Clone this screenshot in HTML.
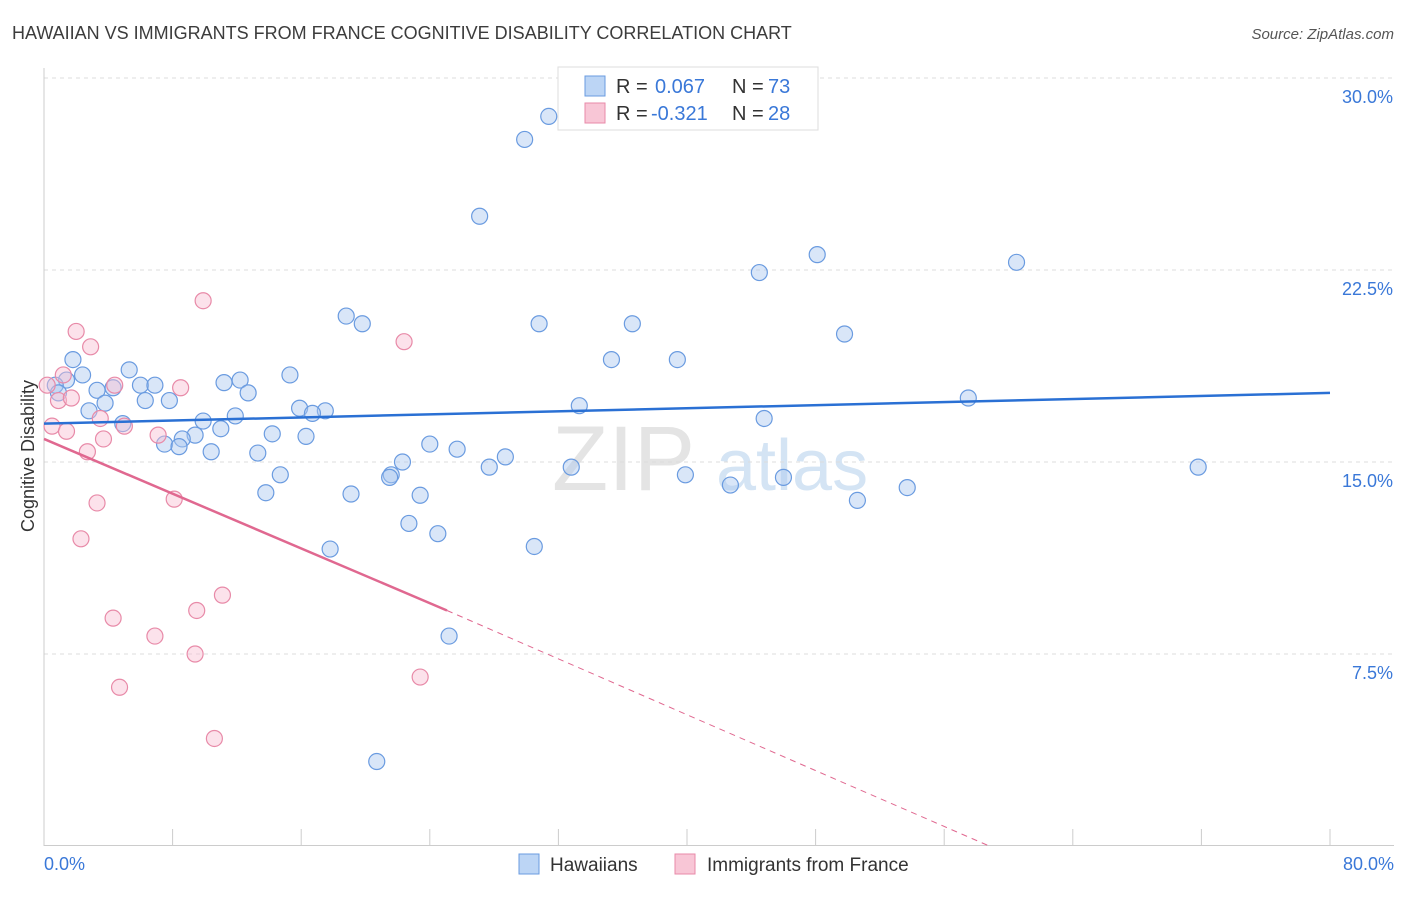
<!DOCTYPE html>
<html><head><meta charset="utf-8">
<style>
body{margin:0;background:#fff;font-family:"Liberation Sans",sans-serif;}
svg text{font-family:"Liberation Sans",sans-serif;}
</style></head>
<body>
<svg id="chart" width="1406" height="892" viewBox="0 0 1406 892" xmlns="http://www.w3.org/2000/svg">
<text x="12" y="39" font-size="18" fill="#3c3c3c">HAWAIIAN VS IMMIGRANTS FROM FRANCE COGNITIVE DISABILITY CORRELATION CHART</text>
<text x="1394" y="39" font-size="15" fill="#555" text-anchor="end" font-style="italic">Source: ZipAtlas.com</text>
<g>
<text x="552" y="490" font-size="92" fill="#e4e4e4" font-family="Liberation Serif">ZIP</text>
<text x="716" y="490" font-size="72" fill="#d4e4f4">atlas</text>
</g>
<g id="grid"></g>
<g id="axes"></g>
<g id="marks"></g>
<text transform="translate(34,456) rotate(-90)" font-size="18" fill="#333" text-anchor="middle">Cognitive Disability</text>
<g>
<rect x="558" y="67" width="260" height="63" fill="#fff" stroke="#ddd"/>
<rect x="585" y="76" width="20" height="20" fill="#bcd5f5" stroke="#6a9be0"/>
<text x="616" y="93" font-size="20" fill="#333">R = </text><text x="655" y="93" font-size="20" fill="#3a78d8">0.067</text>
<text x="732" y="93" font-size="20" fill="#333">N = </text><text x="768" y="93" font-size="20" fill="#3a78d8">73</text>
<rect x="585" y="103" width="20" height="20" fill="#f8c6d6" stroke="#e88aa8"/>
<text x="616" y="120" font-size="20" fill="#333">R = </text><text x="651" y="120" font-size="20" fill="#3a78d8">-0.321</text>
<text x="732" y="120" font-size="20" fill="#333">N = </text><text x="768" y="120" font-size="20" fill="#3a78d8">28</text>
</g>
<g>
<rect x="519" y="854" width="20" height="20" fill="#bcd5f5" stroke="#6a9be0"/>
<text x="550" y="871" font-size="19" fill="#333">Hawaiians</text>
<rect x="675" y="854" width="20" height="20" fill="#f8c6d6" stroke="#e88aa8"/>
<text x="707" y="871" font-size="19" fill="#333">Immigrants from France</text>
</g>
</svg>
<script>
const yTicks=[7.5,15,22.5,30];
const yTickLabels=["7.5%","15.0%","22.5%","30.0%"];
const xTickLabels=["0.0%","80.0%"];
const blueX=[31.4,29.9,27.1,48.1,44.5,60.5,18.8,19.8,30.8,36.6,49.8,35.3,39.4,1.8,5.3,2.4,15.3,1.4,0.7,11.2,12.2,6.0,6.9,3.3,4.3,12.7,0.9,6.3,7.8,57.5,3.8,33.3,2.8,15.9,17.5,16.7,11.9,9.9,44.8,4.9,11.0,14.2,16.3,9.4,8.6,7.5,8.4,24.0,25.7,10.4,13.3,28.7,22.3,27.7,32.8,71.8,21.6,21.5,39.9,14.7,46.0,42.7,53.7,13.8,19.1,23.4,50.6,22.7,24.5,17.8,30.5,25.2,20.7];
const blueY=[28.5,27.6,24.6,23.1,22.4,22.8,20.7,20.4,20.4,20.4,20.0,19.0,19.0,19.0,18.6,18.4,18.4,18.2,18.0,18.1,18.2,18.0,18.0,17.8,17.9,17.7,17.7,17.4,17.4,17.5,17.3,17.2,17.0,17.1,17.0,16.9,16.8,16.6,16.7,16.5,16.3,16.1,16.0,16.05,15.9,15.7,15.6,15.7,15.5,15.4,15.35,15.2,15.0,14.8,14.8,14.8,14.5,14.4,14.5,14.5,14.4,14.1,14.0,13.8,13.75,13.7,13.5,12.6,12.2,11.6,11.7,8.2,3.3];
const pinkX=[9.9,2.0,2.9,22.4,1.2,0.2,4.4,8.5,0.9,1.7,3.5,5.0,0.5,1.4,7.1,3.7,2.7,8.1,3.3,2.3,11.1,9.5,4.3,6.9,9.4,23.4,4.7,10.6];
const pinkY=[21.3,20.1,19.5,19.7,18.4,18.0,18.0,17.9,17.4,17.5,16.7,16.4,16.4,16.2,16.05,15.9,15.4,13.55,13.4,12.0,9.8,9.2,8.9,8.2,7.5,6.6,6.2,4.2];
const blueTrend=[16.5,17.7]; // at x=0 and x=80
const pinkTrend=[15.9,9.2,25.07,58.8]; // y0, y at solid end, solid end x, zero-crossing x
const NS="http://www.w3.org/2000/svg";
const X=v=>44+v/80*1286, Y=v=>846-v/7.5*192;
function mk(tag,attrs,parent){const e=document.createElementNS(NS,tag);for(const k in attrs)e.setAttribute(k,attrs[k]);parent.appendChild(e);return e;}
const grid=document.getElementById('grid'),axes=document.getElementById('axes'),marks=document.getElementById('marks');
yTicks.forEach((t,i)=>{
 const l=mk('line',{x1:44,x2:1394,y1:Y(t),y2:Y(t),stroke:'#ddd','stroke-dasharray':'4,4'},grid);
 
 
 const tx=mk('text',{x:1393,y:Y(t)+25,'font-size':18,fill:'#3a78d8','text-anchor':'end'},axes);
 tx.textContent=yTickLabels[i];
 
 
});
mk('line',{x1:44,x2:44,y1:68,y2:846,stroke:'#ccc'},axes);
mk('line',{x1:44,x2:1394,y1:845.5,y2:845.5,stroke:'#ccc'},axes);
for(let i=0;i<=10;i++){const t=mk('line',{x1:X(i*8),x2:X(i*8),y1:829,y2:846,stroke:'#ccc'},axes);
 
 }
[[0,'start',44],[80,'end',1394]].forEach((d,i)=>{const tx=mk('text',{x:d[2],y:870,'font-size':18,fill:'#3a78d8','text-anchor':d[1]},axes);tx.textContent=xTickLabels[i];
 
 });
blueX.forEach((v,i)=>{const c=mk('circle',{cx:X(v),cy:Y(blueY[i]),r:8,fill:'rgba(170,200,240,0.45)',stroke:'#6a9be0','stroke-width':1.2},marks);
 
 });
pinkX.forEach((v,i)=>{const c=mk('circle',{cx:X(v),cy:Y(pinkY[i]),r:8,fill:'rgba(248,190,210,0.45)',stroke:'#e88aa8','stroke-width':1.2},marks);
 
 });
const bl=mk('line',{x1:X(0),y1:Y(blueTrend[0]),x2:X(80),y2:Y(blueTrend[1]),stroke:'#2a70d4','stroke-width':2.5},marks);


const pl=mk('line',{x1:X(0),y1:Y(pinkTrend[0]),x2:X(pinkTrend[2]),y2:Y(pinkTrend[1]),stroke:'#e06890','stroke-width':2.5},marks);


const pd=mk('line',{x1:X(pinkTrend[2]),y1:Y(pinkTrend[1]),x2:X(pinkTrend[3]),y2:Y(0),stroke:'#e06890','stroke-width':1,'stroke-dasharray':'6,5'},marks);


</script>
</body></html>
